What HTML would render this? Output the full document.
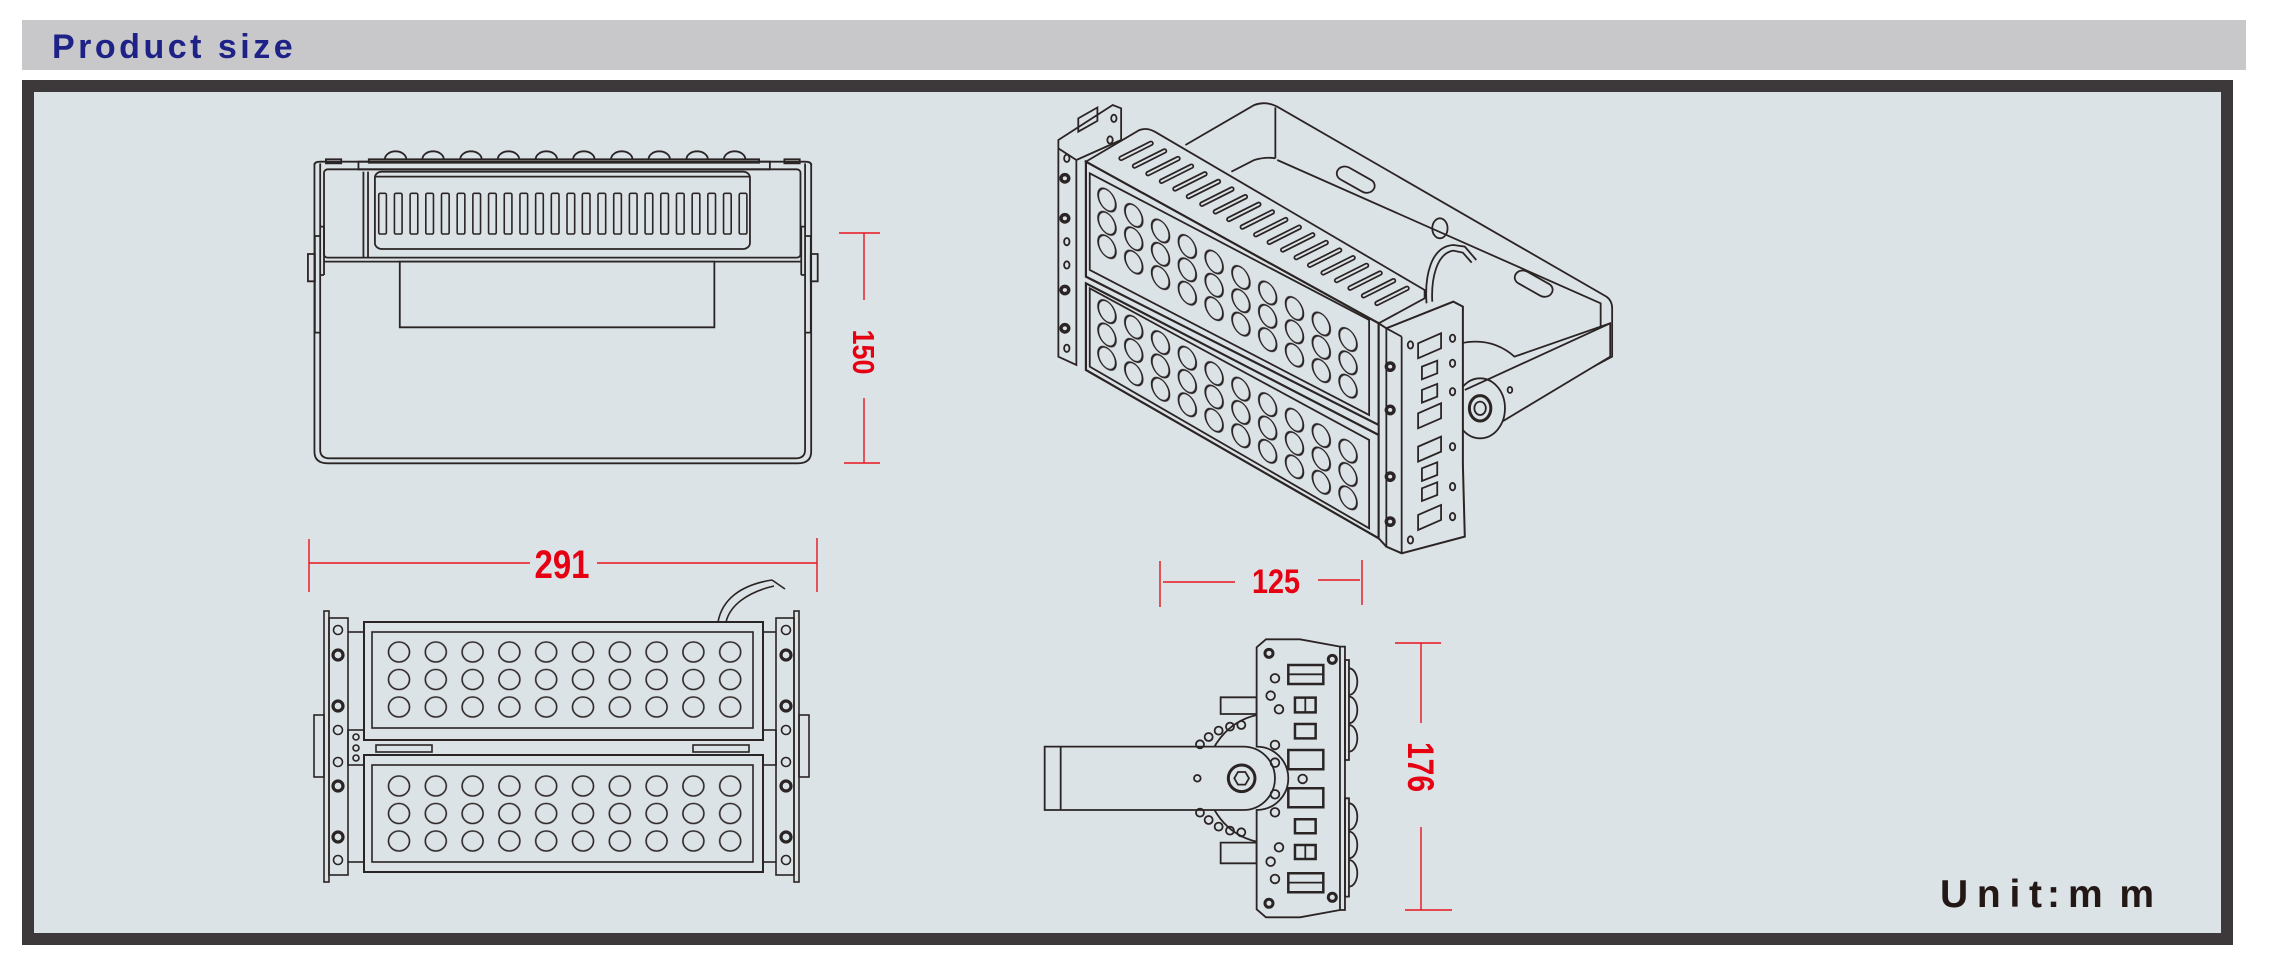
<!DOCTYPE html>
<html><head><meta charset="utf-8"><style>
html,body{margin:0;padding:0;background:#fff;}
svg{display:block}
.d *{vector-effect:non-scaling-stroke}
</style></head><body>
<svg width="2269" height="962" viewBox="0 0 2269 962" xmlns="http://www.w3.org/2000/svg">
<defs>
<pattern id="pb1" patternUnits="userSpaceOnUse" x="380.6" y="638.25" width="36.8" height="27.5"><ellipse cx="18.4" cy="13.75" rx="10.5" ry="10" fill="none" stroke="#2b2424" stroke-width="1.6"/></pattern>
<pattern id="pb2" patternUnits="userSpaceOnUse" x="380.6" y="772.25" width="36.8" height="27.5"><ellipse cx="18.4" cy="13.75" rx="10.5" ry="10" fill="none" stroke="#2b2424" stroke-width="1.6"/></pattern>
<pattern id="pi1" patternUnits="userSpaceOnUse" x="0" y="38.7" width="70" height="70" patternTransform="skewY(33.6)"><ellipse cx="35" cy="35" rx="23" ry="31" fill="none" stroke="#2b2424" stroke-width="5"/></pattern>
<pattern id="pi2" patternUnits="userSpaceOnUse" x="0" y="23.7" width="70" height="70" patternTransform="skewY(33.6)"><ellipse cx="35" cy="35" rx="23" ry="31" fill="none" stroke="#2b2424" stroke-width="5"/></pattern>
</defs>
<rect width="2269" height="962" fill="#fff"/>
<rect x="22" y="20" width="2224" height="50" fill="#c8c8ca"/>
<text x="52" y="58" font-family="Liberation Sans, sans-serif" font-weight="bold" font-size="34" fill="#1e2287" letter-spacing="3.5">Product size</text>
<rect x="28" y="86" width="2199" height="853" fill="#dce3e6" stroke="#3d3839" stroke-width="12"/>

<!-- FRONT VIEW -->
<g class="d" transform="translate(280 130) scale(0.3827 0.3333)" fill="none" stroke="#2b2424" stroke-width="1.8">
<path d="M105,100 V960 Q105,985 130,985 H1347 Q1372,985 1372,960 V100"/>
<path d="M90,100 V965 Q90,1000 125,1000 H1353 Q1388,1000 1388,965 V100"/>
<path d="M90,105 Q90,95 105,95 H1372 Q1388,95 1388,105"/>
<rect x="120" y="88" width="40" height="12"/><rect x="1318" y="88" width="40" height="12"/>
<rect x="205" y="95" width="1075" height="23"/><rect x="232" y="88" width="1020" height="10"/>
<path d="M302,88 A28,24 0 0 1 358,88 M400,88 A28,24 0 0 1 456,88 M499,88 A28,24 0 0 1 555,88 M597,88 A28,24 0 0 1 653,88 M696,88 A28,24 0 0 1 752,88 M794,88 A28,24 0 0 1 850,88 M893,88 A28,24 0 0 1 949,88 M991,88 A28,24 0 0 1 1047,88 M1090,88 A28,24 0 0 1 1146,88 M1188,88 A28,24 0 0 1 1244,88" transform="translate(-28 0)"/>
<rect x="115" y="118" width="1245" height="265" rx="10"/>
<line x1="115" y1="395" x2="1360" y2="395"/>
<line x1="218" y1="125" x2="218" y2="383"/><line x1="230" y1="125" x2="230" y2="383"/>
<rect x="248" y="125" width="980" height="232" rx="18"/>
<line x1="248" y1="140" x2="1228" y2="140"/>
<g stroke-width="1.6">
<rect x="258" y="190" width="20" height="122" rx="4"/><rect x="299" y="190" width="20" height="122" rx="4"/><rect x="340" y="190" width="20" height="122" rx="4"/><rect x="381" y="190" width="20" height="122" rx="4"/><rect x="422" y="190" width="20" height="122" rx="4"/><rect x="463" y="190" width="20" height="122" rx="4"/><rect x="504" y="190" width="20" height="122" rx="4"/><rect x="545" y="190" width="20" height="122" rx="4"/><rect x="586" y="190" width="20" height="122" rx="4"/><rect x="627" y="190" width="20" height="122" rx="4"/><rect x="668" y="190" width="20" height="122" rx="4"/><rect x="709" y="190" width="20" height="122" rx="4"/><rect x="750" y="190" width="20" height="122" rx="4"/><rect x="790" y="190" width="20" height="122" rx="4"/><rect x="831" y="190" width="20" height="122" rx="4"/><rect x="872" y="190" width="20" height="122" rx="4"/><rect x="913" y="190" width="20" height="122" rx="4"/><rect x="954" y="190" width="20" height="122" rx="4"/><rect x="995" y="190" width="20" height="122" rx="4"/><rect x="1036" y="190" width="20" height="122" rx="4"/><rect x="1077" y="190" width="20" height="122" rx="4"/><rect x="1118" y="190" width="20" height="122" rx="4"/><rect x="1159" y="190" width="20" height="122" rx="4"/><rect x="1200" y="190" width="20" height="122" rx="4"/>
</g>
<rect x="313" y="395" width="822" height="197"/>
<rect x="73" y="372" width="18" height="82"/><path d="M91,318 H105 M91,608 H105 M91,318 V608"/><path d="M115,290 V435 M105,290 H115 M105,435 H115"/>
<rect x="1387" y="372" width="18" height="82"/><path d="M1387,318 H1372 M1387,608 H1372 M1387,318 V608"/><path d="M1362,290 V435 M1362,290 H1372 M1362,435 H1372"/>
</g>

<!-- BOTTOM VIEW -->
<g fill="none" stroke="#2b2424" stroke-width="1.6">
<rect x="324" y="611" width="5" height="271"/><rect x="329" y="618" width="19" height="257"/><rect x="314" y="715" width="10" height="62"/>
<rect x="794" y="611" width="5" height="271"/><rect x="776" y="618" width="18" height="257"/><rect x="799" y="715" width="10" height="62"/>
<line x1="348" y1="632" x2="364" y2="632"/><line x1="348" y1="862" x2="364" y2="862"/>
<line x1="763" y1="632" x2="776" y2="632"/><line x1="763" y1="862" x2="776" y2="862"/>
<rect x="348" y="730" width="428" height="35"/>
<rect x="376" y="745" width="56" height="7"/><rect x="693" y="745" width="56" height="7"/>
<g stroke-width="3.2"><circle cx="338" cy="655" r="5"/><circle cx="338" cy="706" r="5"/><circle cx="338" cy="786" r="5"/><circle cx="338" cy="837" r="5"/>
<circle cx="786" cy="655" r="5"/><circle cx="786" cy="706" r="5"/><circle cx="786" cy="786" r="5"/><circle cx="786" cy="837" r="5"/></g>
<circle cx="338" cy="630" r="4.5"/><circle cx="338" cy="730" r="4.5"/><circle cx="338" cy="762" r="4.5"/><circle cx="338" cy="860" r="4.5"/>
<circle cx="786" cy="630" r="4.5"/><circle cx="786" cy="730" r="4.5"/><circle cx="786" cy="762" r="4.5"/><circle cx="786" cy="860" r="4.5"/>
<circle cx="356" cy="737" r="3"/><circle cx="356" cy="748" r="3"/><circle cx="356" cy="758" r="3"/>
<rect x="364" y="622" width="399" height="118" fill="#dce3e6" stroke-width="2"/>
<rect x="372" y="632" width="381" height="96"/>
<rect x="364" y="755" width="399" height="117" fill="#dce3e6" stroke-width="2"/>
<rect x="372" y="765" width="381" height="97"/>
<path d="M718,622 C722,600 740,585 772,580 M726,622 C730,605 748,592 774,586 M772,580 L785,589"/>
</g>
<rect x="380.6" y="638.25" width="368" height="82.5" fill="url(#pb1)"/>
<rect x="380.6" y="772.25" width="368" height="82.5" fill="url(#pb2)"/>

<!-- ISO VIEW -->
<g class="d" transform="translate(1040 90) scale(0.3827 0.3333)" fill="none" stroke="#2b2424" stroke-width="1.8">
<path d="M380,165 L560,45 Q590,32 620,50 L1480,620 Q1495,632 1495,655 L1495,800 L1235,960"/>
<path d="M615,52 V205 M615,205 Q590,200 560,210 L500,245 M620,210 L1465,640 V800"/>
<rect x="770" y="248" width="110" height="42" rx="21" transform="rotate(33 825 269)"/>
<rect x="1235" y="560" width="110" height="42" rx="21" transform="rotate(33 1290 581)"/>
<ellipse cx="1045" cy="415" rx="20" ry="30"/>
<path d="M48,150 L190,45 L212,55 V150 L95,210 V825 L48,800 Z" fill="#dce3e6"/>
<line x1="95" y1="210" x2="48" y2="175"/>
<rect x="100" y="150" width="50" height="40" transform="skewY(-33)" />
<g stroke-width="3.5"><ellipse cx="65" cy="265" rx="10" ry="11"/><ellipse cx="65" cy="385" rx="10" ry="11"/><ellipse cx="65" cy="600" rx="10" ry="11"/><ellipse cx="65" cy="715" rx="10" ry="11"/></g>
<ellipse cx="70" cy="205" rx="7" ry="11"/><ellipse cx="70" cy="455" rx="7" ry="11"/><ellipse cx="70" cy="525" rx="7" ry="11"/><ellipse cx="70" cy="775" rx="7" ry="11"/><ellipse cx="193" cy="85" rx="7" ry="11"/><ellipse cx="183" cy="150" rx="7" ry="11"/>
<path d="M120,215 L260,120 Q280,112 300,125 L1005,600 V625 L885,700 Z" fill="#dce3e6"/>
<path d="M212,205 L290,160 M247.2,227.9 L325.2,182.9 M282.4,250.8 L360.4,205.8 M317.6,273.7 L395.6,228.7 M352.8,296.6 L430.8,251.6 M388,319.5 L466,274.5 M423.2,342.4 L501.2,297.4 M458.4,365.3 L536.4,320.3 M493.6,388.2 L571.6,343.2 M528.8,411.1 L606.8,366.1 M564,434 L642,389 M599.2,456.9 L677.2,411.9 M634.4,479.8 L712.4,434.8 M669.6,502.7 L747.6,457.7 M704.8,525.6 L782.8,480.6 M740,548.5 L818,503.5 M775.2,571.4 L853.2,526.4 M810.4,594.3 L888.4,549.3 M845.6,617.2 L923.6,572.2 M880.8,640.1 L958.8,595.1" stroke-width="5.5" stroke-linecap="round"/>
<path d="M212,205 L290,160 M247.2,227.9 L325.2,182.9 M282.4,250.8 L360.4,205.8 M317.6,273.7 L395.6,228.7 M352.8,296.6 L430.8,251.6 M388,319.5 L466,274.5 M423.2,342.4 L501.2,297.4 M458.4,365.3 L536.4,320.3 M493.6,388.2 L571.6,343.2 M528.8,411.1 L606.8,366.1 M564,434 L642,389 M599.2,456.9 L677.2,411.9 M634.4,479.8 L712.4,434.8 M669.6,502.7 L747.6,457.7 M704.8,525.6 L782.8,480.6 M740,548.5 L818,503.5 M775.2,571.4 L853.2,526.4 M810.4,594.3 L888.4,549.3 M845.6,617.2 L923.6,572.2 M880.8,640.1 L958.8,595.1" stroke="#dce3e6" stroke-width="2" stroke-linecap="round"/>
<path d="M120,215 L885,700 L885,1005 L120,560 Z" fill="#dce3e6" stroke-width="2.2"/>
<path d="M130,250 L860,690 L860,975 L130,540 Z"/>
<path d="M120,580 L885,1035 L885,1345 L120,840 Z" fill="#dce3e6" stroke-width="2.2"/>
<path d="M130,595 L860,1050 L860,1315 L130,830 Z"/>
<path d="M140,271.8 L840,736.6 L840,946.6 L140,481.8 Z" fill="url(#pi1)" stroke="none"/>
<path d="M140,606.8 L840,1071.6 L840,1281.6 L140,816.8 Z" fill="url(#pi2)" stroke="none"/>
<path d="M1100,760 Q1180,740 1240,800 L1490,700 V800 L1200,1000 Q1150,1050 1110,1010" fill="#dce3e6"/>
<ellipse cx="1150" cy="955" rx="65" ry="90" fill="#dce3e6"/>
<path d="M1110,900 L1490,700" />
<ellipse cx="1150" cy="955" rx="28" ry="38" stroke-width="3"/><ellipse cx="1150" cy="955" rx="15" ry="20"/>
<ellipse cx="1228" cy="900" rx="6" ry="9"/>
<path d="M885,700 L905,715 L1080,635 L1105,650 V1125 L1110,1340 L945,1390 L905,1370 L885,1345 Z" fill="#dce3e6" stroke-width="2"/>
<path d="M905,715 V1370 M945,740 V1390 M905,715 L945,740"/>
<g stroke-width="3.5"><ellipse cx="915" cy="830" rx="10" ry="11"/><ellipse cx="915" cy="960" rx="10" ry="11"/><ellipse cx="915" cy="1160" rx="10" ry="11"/><ellipse cx="915" cy="1295" rx="10" ry="11"/></g>
<ellipse cx="968" cy="765" rx="7" ry="11"/><ellipse cx="968" cy="1350" rx="7" ry="11"/><ellipse cx="1078" cy="745" rx="7" ry="11"/><ellipse cx="1078" cy="1280" rx="7" ry="11"/><ellipse cx="1078" cy="820" rx="7" ry="11"/><ellipse cx="1078" cy="905" rx="7" ry="11"/><ellipse cx="1078" cy="1070" rx="7" ry="11"/><ellipse cx="1078" cy="1190" rx="7" ry="11"/>
<path d="M988,760 L1048,730 V775 L988,805 Z M998,830 L1038,812 V850 L998,868 Z M998,900 L1038,882 V920 L998,938 Z M988,970 L1048,940 V985 L988,1015 Z M988,1070 L1048,1040 V1085 L988,1115 Z M998,1135 L1038,1117 V1155 L998,1173 Z M998,1195 L1038,1177 V1215 L998,1233 Z M988,1275 L1048,1245 V1290 L988,1320 Z"/>
<path d="M1010,640 C1005,560 1020,470 1080,465 L1110,470 L1140,510 M1025,635 C1022,570 1035,490 1080,482 L1105,488 L1128,518"/>
</g>

<!-- SIDE VIEW -->
<g class="d" transform="translate(1030 560) scale(0.3333)" fill="none" stroke="#2b2424" stroke-width="1.8">
<rect x="572" y="412" width="108" height="50"/><rect x="572" y="848" width="108" height="62"/>
<path d="M680,465 A195,195 0 0 0 680,845" fill="#dce3e6"/>
<path d="M44,560 H640 A95,95 0 0 1 640,750 H44 Z" fill="#dce3e6"/>
<line x1="92" y1="560" x2="92" y2="750"/>
<circle cx="635" cy="655" r="40" stroke-width="3"/><path d="M657,655 L646,674 L624,674 L613,655 L624,636 L646,636 Z"/>
<circle cx="502" cy="655" r="10"/>
<g><circle cx="510" cy="553" r="12"/><circle cx="536" cy="531" r="12"/><circle cx="566" cy="512" r="12"/><circle cx="600" cy="500" r="12"/><circle cx="634" cy="495" r="12"/><circle cx="510" cy="758" r="12"/><circle cx="536" cy="780" r="12"/><circle cx="566" cy="800" r="12"/><circle cx="600" cy="812" r="12"/><circle cx="634" cy="817" r="12"/></g>
<path d="M680,262 L708,238 H810 L930,260 H945 V1050 H930 L810,1072 H708 L680,1048 V750 A95,95 0 0 0 680,560 Z" fill="#dce3e6"/>
<line x1="930" y1="260" x2="930" y2="1052"/>
<rect x="945" y="300" width="12" height="300"/><rect x="945" y="715" width="12" height="295"/>
<path d="M957,325 A25,40 0 0 1 957,405 M957,410 A25,40 0 0 1 957,490 M957,495 A25,40 0 0 1 957,575 M957,730 A25,40 0 0 1 957,810 M957,815 A25,40 0 0 1 957,895 M957,900 A25,40 0 0 1 957,980"/>
<g stroke-width="2.5"><rect x="775" y="315" width="105" height="57"/><rect x="795" y="413" width="62" height="44"/><rect x="795" y="492" width="62" height="43"/><rect x="775" y="570" width="105" height="58"/><rect x="775" y="685" width="105" height="57"/><rect x="795" y="778" width="62" height="42"/><rect x="795" y="855" width="62" height="42"/><rect x="775" y="940" width="105" height="57"/></g>
<line x1="775" y1="343" x2="880" y2="343"/><line x1="826" y1="413" x2="826" y2="457"/><line x1="826" y1="855" x2="826" y2="897"/><line x1="775" y1="968" x2="880" y2="968"/>
<g><circle cx="735" cy="355" r="13"/><circle cx="722" cy="407" r="13"/><circle cx="747" cy="448" r="13"/><circle cx="735" cy="555" r="13"/><circle cx="735" cy="608" r="13"/><circle cx="818" cy="657" r="13"/><circle cx="735" cy="703" r="13"/><circle cx="735" cy="757" r="13"/><circle cx="747" cy="862" r="13"/><circle cx="722" cy="905" r="13"/><circle cx="735" cy="957" r="13"/></g>
<g stroke-width="3"><circle cx="717" cy="280" r="12"/><circle cx="907" cy="298" r="12"/><circle cx="717" cy="1030" r="12"/><circle cx="907" cy="1012" r="12"/></g>
</g>

<!-- DIMENSIONS -->
<g stroke="#e8141c" stroke-width="1.4" fill="none">
<path d="M864,233 V300 M864,398 V463 M839,233 H880 M844,463 H880"/>
<path d="M309,563 H530 M597,563 H817 M309,539 V592 M817,538 V592"/>
<path d="M1163,582 H1235 M1318,580 H1360 M1160,561 V607 M1362,560 V605"/>
<path d="M1421,643 V723 M1421,827 V910 M1395,643 H1441 M1405,910 H1452"/>
</g>
<g fill="#e60012" font-weight="bold">
<text x="562" y="578" text-anchor="middle" font-family="Liberation Sans Narrow, Liberation Sans, sans-serif" font-size="40" textLength="55" lengthAdjust="spacingAndGlyphs">291</text>
<text x="1276" y="593" text-anchor="middle" font-family="Liberation Sans Narrow, Liberation Sans, sans-serif" font-size="34" textLength="48" lengthAdjust="spacingAndGlyphs">125</text>
<text x="864" y="352" dy="11" text-anchor="middle" transform="rotate(90 864 352)" font-family="Liberation Sans, sans-serif" font-size="31" textLength="45" lengthAdjust="spacingAndGlyphs">150</text>
<text x="1421" y="767" dy="13" text-anchor="middle" transform="rotate(90 1421 767)" font-family="Liberation Sans, sans-serif" font-size="37" textLength="50" lengthAdjust="spacingAndGlyphs">176</text>
</g>
<g font-family="Liberation Sans, sans-serif" font-weight="bold" font-size="39" fill="#231815">
<text x="1940" y="907" textLength="102" lengthAdjust="spacing">Unit</text>
<text x="2047" y="907">:</text>
<text x="2068" y="907" textLength="86" lengthAdjust="spacing">mm</text>
</g>
</svg>
</body></html>
